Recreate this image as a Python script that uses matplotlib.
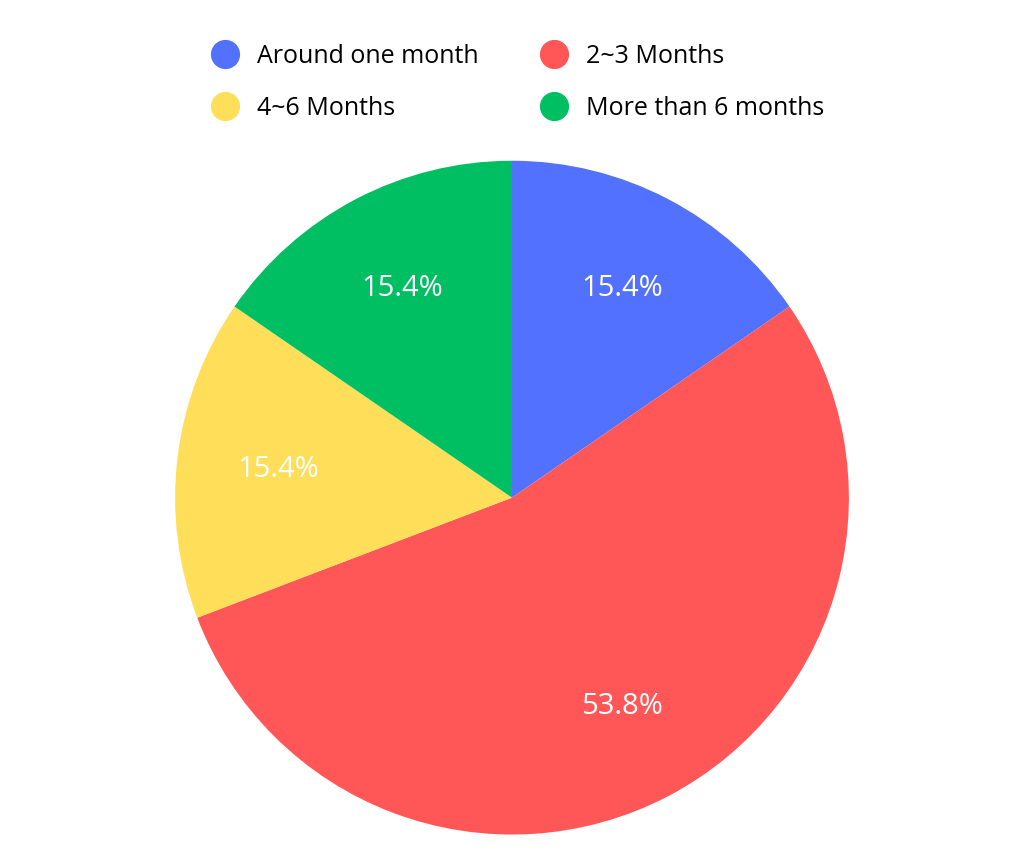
import matplotlib.pyplot as plt
from matplotlib.lines import Line2D

labels = ["Around one month", "2~3 Months", "4~6 Months", "More than 6 months"]
values = [15.4, 53.8, 15.4, 15.4]
colors = ["#5271ff", "#ff5757", "#ffde59", "#00bf63"]

plt.rcParams['font.family'] = ['Open Sans', 'DejaVu Sans']

fig = plt.figure(figsize=(10.24, 8.58), dpi=100)
ax = fig.add_axes([0.171, 0.027, 0.658, 0.786])
ax.pie(values, colors=colors, startangle=90, counterclock=False,
       autopct="%.1f%%", pctdistance=0.70, radius=1.0,
       textprops=dict(color="white", fontsize=21))
ax.set_xlim(-1, 1)
ax.set_ylim(-1, 1)
ax.set_aspect("equal")

handles = [Line2D([], [], marker="o", linestyle="", markersize=20, color=c) for c in colors]
order = [0, 2, 1, 3]
fig.legend([handles[i] for i in order], [labels[i] for i in order],
           loc="center", bbox_to_anchor=(0.5, 0.904), ncol=2,
           frameon=False, fontsize=18, handletextpad=0.3, columnspacing=2.0,
           labelspacing=1.1)

fig.savefig("out.png", dpi=100, facecolor="white")
